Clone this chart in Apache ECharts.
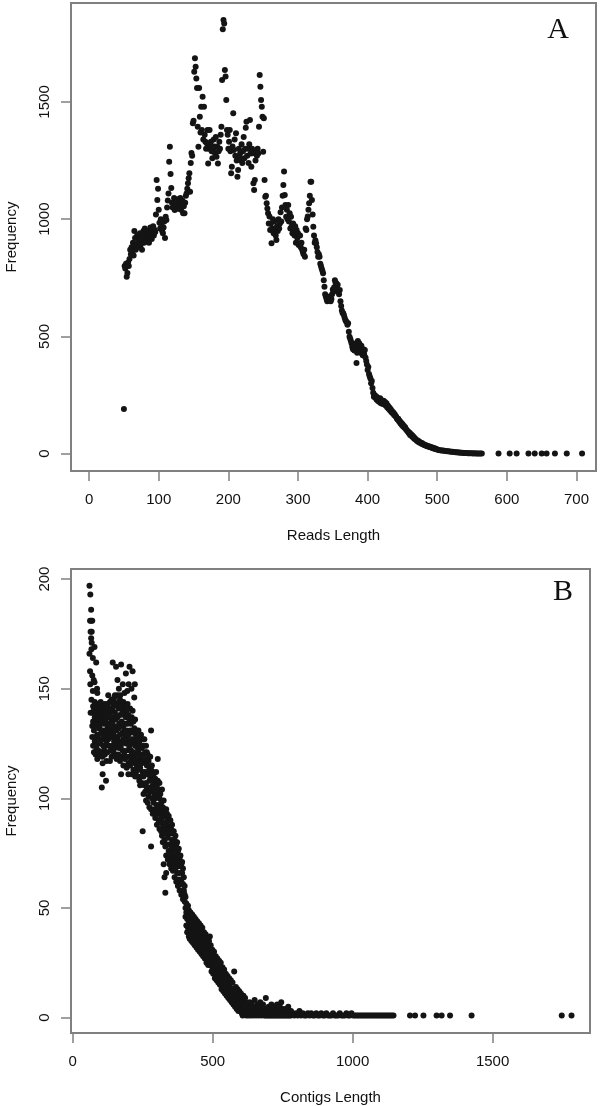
<!DOCTYPE html>
<html>
<head>
<meta charset="utf-8">
<title>Reads / Contigs length frequency</title>
<script src="https://cdn.jsdelivr.net/npm/echarts@6/dist/echarts.min.js"></script>
<style>
  html, body { margin: 0; padding: 0; background: #fff; }
  #chart { width: 600px; height: 1106px; }
</style>
</head>
<body>
<div id="chart"></div>
<script>
// panel A: reads length vs frequency, [length, frequency]
const readsRise = [
  [50,190],[51,800],[52,790],[53,810],[54,755],[55,770],[56,815],[57,800],[58,830],[59,870],[60,850],
  [61,880],[62,860],[63,900],[64,845],[65,950],[66,920],[67,870],[68,890],[69,930],[70,900],
  [71,880],[72,915],[73,940],[74,890],[75,910],[76,870],[77,925],[78,950],[79,900],[80,960],
  [81,930],[82,905],[83,940],[84,920],[85,950],[86,900],[87,935],[88,965],[89,940],[90,915],
  [91,950],[92,970],[93,930],[94,955],[95,945],[96,1020],[97,1167],[98,1082],[99,1130],[100,1040],
  [101,985],[102,960],[103,1000],[104,975],[105,950],[106,940],[107,965],[108,990],[109,920],[110,1010],
  [111,997],[112,1050],[113,1080],[114,1110],[115,1245],[116,1309],[117,1193],[118,1133],[119,1070],[120,1050],
  [121,1069],[122,1090],[123,1039],[124,1075],[125,1053],[126,1060],[127,1085],[128,1045],[129,1070],[130,1060],
  [131,1090],[132,1040],[133,1069],[134,1080],[135,1025],[136,1055],[137,1025],[138,1070],[139,1100],[140,1110],
  [141,1130],[142,1153],[143,1175],[144,1196],[145,1117],[146,1240],[147,1282],[148,1270],[149,1409],[150,1420]
];
const readsPeak = [
  [151,1629],[152,1686],[153,1650],[154,1600],[155,1560],[156,1394],[157,1309],[158,1559],[159,1437],[160,1370],
  [161,1480],[162,1380],[163,1522],[164,1340],[165,1480],[166,1360],[167,1330],[168,1300],[169,1324],[170,1380],
  [171,1238],[172,1300],[173,1380],[174,1310],[175,1330],[176,1290],[177,1260],[178,1295],[179,1340],[180,1310],
  [181,1280],[182,1350],[183,1266],[184,1310],[185,1238],[186,1290],[187,1330],[188,1300],[189,1360],[190,1394],
  [191,1594],[192,1810],[193,1849],[194,1835],[195,1636],[196,1608],[197,1508],[198,1380],[199,1360],[200,1300],
  [201,1330],[202,1380],[203,1290],[204,1196],[205,1224],[206,1310],[207,1452],[208,1295],[209,1340],[210,1270],
  [211,1366],[212,1250],[213,1181],[214,1210],[215,1300],[216,1266],[217,1281],[218,1250],[219,1320],[220,1240],
  [221,1290],[222,1350],[223,1260],[224,1300],[225,1390],[226,1416],[227,1270],[228,1300],[229,1240],[230,1320],
  [231,1423],[232,1280],[233,1224],[234,1300],[235,1281],[236,1153],[237,1124],[238,1167],[239,1250],[240,1290],
  [241,1270],[242,1300],[243,1280],[244,1394],[245,1615],[246,1565],[247,1508],[248,1480],[249,1437],[250,1288],
  [251,1430],[252,1167],[253,1096],[254,1100],[255,1068],[256,1046],[257,1025],[258,982],[259,1011],[260,954]
];
const readsShoulder = [
  [261,980],[262,897],[263,960],[264,1000],[265,940],[266,990],[267,960],[268,930],[269,911],[270,970],
  [271,950],[272,1000],[273,960],[274,982],[275,1030],[276,990],[277,1050],[278,1100],[279,1146],[280,1203],
  [281,1103],[282,1060],[283,1010],[284,1040],[285,1000],[286,1061],[287,990],[288,1025],[289,960],[290,1010],
  [291,970],[292,940],[293,982],[294,950],[295,930],[296,970],[297,900],[298,954],[299,920],[300,940],
  [301,890],[302,897],[303,930],[304,880],[305,900],[306,870],[307,860],[308,850],[309,870],[310,840],
  [311,960],[312,954],[313,1000],[314,1011],[315,1040],[316,1068],[317,1100],[318,1160],[319,1160],[320,1082],
  [321,1020],[322,968],[323,930],[324,900],[325,910],[326,897],[327,880],[328,860],[329,840],[330,850],
  [331,840],[332,810],[333,800],[334,790],[335,780],[336,769],[337,740],[338,712],[339,680],[340,670],
  [341,660],[342,650],[343,660],[344,655],[345,670],[346,655],[347,650],[348,660],[349,680],[350,700],
  [351,690],[352,710],[353,740],[354,730],[355,727],[356,700],[357,720],[358,690],[359,680],[360,698],
  [361,650],[362,630],[363,610],[364,600],[365,599],[366,590],[367,580],[368,570],[369,565],[370,560],
  [371,550],[372,556],[373,520],[374,499],[375,490],[376,480],[377,470],[378,455],[379,445],[380,460],
  [381,440],[382,470],[383,442],[384,387],[385,430],[386,480],[387,460],[388,471],[389,450],[390,430],
  [391,460],[392,440],[393,420],[394,445],[395,425],[396,442],[397,410],[398,395],[399,380],[400,357]
];
const readsTail = [
  [401,370],[402,340],[403,330],[404,320],[405,300],[406,310],[407,280],[408,260],[409,243],[410,250],
  [411,238],[412,245],[413,230],[414,240],[415,225],[416,232],[417,220],[418,236],[419,215],[420,228],
  [421,222],[422,212],[423,226],[424,210],[425,220],[426,205],[427,215],[428,198],[429,205],[430,192],
  [431,198],[432,185],[433,190],[434,178],[435,182],[436,172],[437,176],[438,165],[439,168],[440,160],
  [441,158],[442,150],[443,146],[444,149],[445,138],[446,140],[447,130],[448,133],[449,122],[450,126],
  [451,116],[452,119],[453,110],[454,113],[455,104],[456,101],[457,97],[458,94],[459,88],[460,90],
  [461,80],[462,84],[463,75],[464,78],[465,70],[466,72],[467,64],[468,66],[469,60],[470,58],
  [471,54],[472,56],[473,50],[474,52],[475,47],[476,48],[477,43],[478,45],[479,40],[480,41],
  [481,38],[482,37],[483,35],[484,36],[485,33],[486,32],[487,31],[488,30],[489,30],[490,28],
  [491,27],[492,25],[493,26],[494,23],[495,24],[496,21],[497,22],[498,20],[499,19],[500,18],
  [502,16],[504,15],[506,13],[508,13],[510,12],[512,11],[514,10],[516,10],[518,9],[520,8],
  [522,8],[524,7],[526,6],[528,6],[530,5],[532,5],[534,4],[536,4],[538,3],[540,3],
  [542,3],[544,2],[546,2],[548,2],[550,2],[552,1],[554,2],[556,1],[558,1],[560,1],
  [562,1],[564,1],[588,1],[604,1],[614,1],[631,1],[640,1],[650,1],[657,1],[669,1],[686,1],[708,1]
];

// panel B: contigs length vs frequency, rows are [length, freq, freq, ...]
const contigsHead = [
  [60,197,166],[62,181,158],[63,193,152],[64,176,139],[66,186,181,173],[67,168,145],[68,171,176],
  [70,181,156],[72,164,149],[75,154,134],[78,169,153],[80,143],[84,162,141,122],[87,150],[91,129],
  [94,140],[96,132],[104,105],[107,111,116],[119,108],[173,111]
];
const contigsBand = [
  [70,139,128,133],[73,142,135,124],[76,131,141,121],[79,137,126,144],[82,133,120,140,128],
  [85,143,124,135],[88,129,138,118,148],[91,136,122,141],[94,127,140,132],[97,143,120,134,126],
  [100,137,125,144],[103,131,142,121,136],[106,139,127,119],[109,134,140,124,129],[112,141,122,131],
  [115,128,137,143,120],[118,135,124,142],[121,130,139,117,126],[124,143,133,121],[127,137,127,147,131],
  [130,124,141,134],[133,139,129,117,144],[136,132,122,141],[139,145,128,136,119],[142,135,124,140],
  [145,142,130,121,137],[148,133,126,144],[151,139,123,147,131],[154,128,136,120],[157,143,131,125,118],
  [160,137,147,128],[163,132,141,120,126],[166,144,134,123],[169,129,138,117,145],[172,141,133,124],
  [175,135,126,119,143],[178,140,130,122],[181,133,144,127,115],[184,138,121,131],[187,142,129,118,134],
  [190,125,137,119],[193,140,131,114,127],[196,134,122,143],[199,129,138,116,111],[202,136,124,119],
  [205,131,141,115,126],[208,122,134,117],[211,137,127,111,120],[214,130,119,140],[217,125,135,113,121],
  [220,132,118,127],[223,124,136,110,116],[226,129,120,112],[229,126,131,115],
  [143,162],[149,146],[155,160],[160,154],[165,150],[170,147],[173,161],[179,152],[185,148],
  [190,157],[195,149],[200,152],[203,160],[210,150],[214,158],[220,146],[222,152]
];
const contigsSlope = [
  [232,128,117,110,123],[235,121,131,113],[238,126,108,118],[241,114,124,106],[244,129,119,110],
  [247,116,107,123],[250,120,85,112,127],[253,110,124,102],[256,117,127,106],[259,121,112,103],
  [262,107,118,99,124],[265,115,104,121],[268,111,120,98],[271,105,117,101],[274,113,96,108],
  [277,119,103,110],[280,113,104,95,131,78],[283,100,115,109],[286,106,93,112],[289,111,98,104],
  [292,95,107,102],[295,109,91,100],[298,103,112,94],[301,97,106,88],[304,101,93,118,108],
  [307,90,104,96],[310,100,86,107],[313,94,102,89],[316,98,85,92],[319,104,91,83],
  [322,87,96,80],[325,93,99,84,70],[328,89,81,95,64],[331,92,78,86,57],[334,84,95,74,66],
  [337,88,79,93],[340,82,90,72],[343,86,76,92],[346,79,87,70],[349,84,74,90],
  [352,77,86,68],[355,81,72,88],[358,75,84,67],[361,79,70,85],[364,73,81,64],
  [367,77,68,83],[370,71,79,62],[373,74,66,80],[376,69,76,60],[379,72,63,77],
  [382,66,73,58],[385,69,61,74],[388,63,70,56],[391,66,58,71],[394,61,68,54],
  [397,64,57,58],[400,60,53,56],[403,50,46,55],[406,48,52,42],[409,45,49,39],
  [412,47,41,51],[415,44,49,37],[418,46,40,36],[421,42,38,48]
];
const contigsTail = [
  [424,44,39,35],[427,42,38,47],[430,43,37,34],[433,41,36,46],[436,42,37,33],[439,40,35,45],
  [442,41,36,32],[445,39,34,44],[448,40,35,31],[451,38,33,43],[454,39,34,30],[457,37,32,42],
  [460,38,33,29],[463,36,31,41],[466,37,32,28],[469,35,30,39],[472,35,30,27],[475,33,29,38],
  [478,34,29,25],[481,32,27,36],[484,32,27,24],[487,30,26,35],[490,37,29,24],[493,29,25,33],
  [496,29,24,21],[499,27,23,31],[502,27,23,20],[505,25,22,30],[508,26,22,18],[511,24,20,28],
  [514,24,20,17],[517,23,19,27],[520,23,19,16],[523,21,18,26],[526,22,18,15],[529,20,16,25],
  [532,20,16,13],[535,19,15,23],[538,19,15,12],[541,17,14,22],[544,18,14,11],[547,16,13,20],
  [550,16,12,10],[553,15,12,19],[556,15,11,9],[559,14,11,18],[562,14,10,8],[565,13,10,17],
  [568,13,9,7],[571,12,9,16],[574,12,8,6],[577,11,8,21],[580,11,7,5],[583,10,7,14],
  [586,10,6,4],[589,9,6,13],[592,9,6,3],[595,8,5,12],[598,9,5,3],[601,8,5,11],
  [604,7,4,2],[607,8,4,1],[610,7,4,10],[613,6,3,2],[616,7,4,9],[620,6,3,1],
  [624,4,2,6],[628,3,1,5],[632,4,2,7],[636,3,1,5],[640,4,2,6],[645,3,1,5],[650,4,2,8],
  [655,3,1,5],[660,4,2,6],[665,3,1,5],[670,3,2,7],[675,4,1,5],[680,3,2,6],[685,2,1,4],
  [690,3,1,9],[695,2,4,1],[700,3,1,5],[705,2,1,4],[710,3,1,6],[715,2,1,4],[720,3,1,5],
  [725,2,1,4],[730,3,1,6],[735,2,1,4],[740,3,1,5],[745,2,1,7],[750,2,1,4],[755,3,1],
  [760,2,1,4],[765,2,1],[770,3,1,5],[775,2,1],[780,2,1,3],
  [786,2],[792,1],[798,2],[804,1],[810,3],[816,1],[822,2],[828,1],[834,1],[840,2],
  [846,1],[852,2],[858,1],[864,1],[870,2],[876,1],[882,1],[888,2],[894,1],[900,1],
  [906,2],[912,1],[918,1],[924,1],[930,2],[936,1],[942,1],[948,1],[954,2],[960,1],
  [966,1],[972,1],[978,2],[984,1],[990,1],[996,2],[1002,1],[1008,1],[1014,1],[1020,1],
  [1026,1],[1032,1],[1038,1],[1044,1],[1050,1],[1056,1],[1062,1],[1068,1],[1074,1],[1080,1],
  [1086,1],[1092,1],[1098,1],[1104,1],[1110,1],[1116,1],[1122,1],[1128,1],[1134,1],[1140,1],
  [1146,1],[1205,1],[1223,1],[1253,1],[1300,1],[1318,1],[1348,1],[1425,1],[1747,1],[1782,1]
];

const readsTicksX = [0, 100, 200, 300, 400, 500, 600, 700];
const readsTicksY = [0, 500, 1000, 1500];
const contigsTicksX = [0, 500, 1000, 1500];
const contigsTicksY = [0, 50, 100, 150, 200];
const axisNames = ['Reads Length', 'Contigs Length', 'Frequency'];
const panelLetters = ['A', 'B'];

const expand = rows => rows.flatMap(([x, ...ys]) => ys.map(y => [x, y]));

const readsData = [].concat(readsRise, readsPeak, readsShoulder, readsTail);
const contigsData = expand([].concat(contigsHead, contigsBand, contigsSlope, contigsTail));

const boxGray = '#808080';
const ink = '#111';
const sans = '"Liberation Sans", Arial, sans-serif';
const plain = v => String(v);

function xAxisFor(gridIndex, name, min, max, ticks) {
  return {
    gridIndex: gridIndex,
    type: 'value',
    min: min,
    max: max,
    name: name,
    nameLocation: 'middle',
    nameGap: 57,
    nameTextStyle: { fontSize: 15, color: ink, fontFamily: sans },
    axisLine: { show: false, onZero: false },
    axisTick: { show: true, inside: false, length: 10, customValues: ticks,
      lineStyle: { color: boxGray, width: 1.5 } },
    axisLabel: { customValues: ticks, formatter: plain, margin: 21, fontSize: 15, color: ink, fontFamily: sans },
    splitLine: { show: false }
  };
}

function yAxisFor(gridIndex, min, max, ticks) {
  return {
    gridIndex: gridIndex,
    type: 'value',
    min: min,
    max: max,
    name: axisNames[2],
    nameLocation: 'middle',
    nameGap: 52,
    nameTextStyle: { fontSize: 15, color: ink, fontFamily: sans },
    axisLine: { show: false, onZero: false },
    axisTick: { show: true, inside: false, length: 10, customValues: ticks,
      lineStyle: { color: boxGray, width: 1.5 } },
    axisLabel: { customValues: ticks, formatter: plain, rotate: 90, margin: 19, fontSize: 15, color: ink, fontFamily: sans },
    splitLine: { show: false }
  };
}

const chart = echarts.init(document.getElementById('chart'), null, { renderer: 'canvas' });
chart.setOption({
  animation: false,
  backgroundColor: '#fff',
  grid: [
    { left: 71, top: 3, width: 525, height: 468, show: true, borderColor: boxGray, borderWidth: 2,
      containLabel: false, outerBoundsMode: 'none' },
    { left: 71, top: 569, width: 519, height: 464, show: true, borderColor: boxGray, borderWidth: 2,
      containLabel: false, outerBoundsMode: 'none' }
  ],
  xAxis: [
    xAxisFor(0, axisNames[0], -26, 728, readsTicksX),
    xAxisFor(1, axisNames[1], -6, 1848, contigsTicksX)
  ],
  yAxis: [
    yAxisFor(0, -74, 1922, readsTicksY),
    yAxisFor(1, -7, 204.6, contigsTicksY)
  ],
  graphic: [
    { type: 'text', x: 558, y: 30,
      style: { text: panelLetters[0], font: '30px "Liberation Serif", "Times New Roman", serif',
        fill: ink, align: 'center', verticalAlign: 'middle' } },
    { type: 'text', x: 563, y: 592,
      style: { text: panelLetters[1], font: '30px "Liberation Serif", "Times New Roman", serif',
        fill: ink, align: 'center', verticalAlign: 'middle' } }
  ],
  series: [
    { type: 'scatter', xAxisIndex: 0, yAxisIndex: 0, data: readsData,
      symbol: 'circle', symbolSize: 6, itemStyle: { color: '#141414', opacity: 1 } },
    { type: 'scatter', xAxisIndex: 1, yAxisIndex: 1, data: contigsData,
      symbol: 'circle', symbolSize: 6, itemStyle: { color: '#141414', opacity: 1 } }
  ]
});
</script>
</body>
</html>
